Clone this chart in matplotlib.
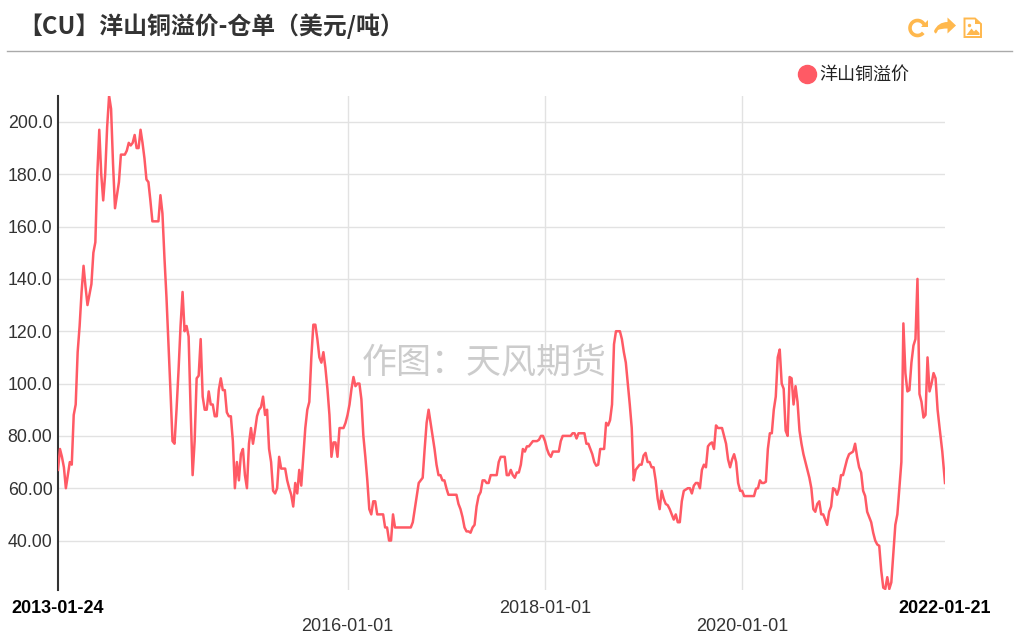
import numpy as np
import pandas as pd
import matplotlib
matplotlib.use("Agg")
import matplotlib.pyplot as plt
from matplotlib.lines import Line2D
from matplotlib.patches import Arc, Circle, PathPatch, Polygon
from matplotlib.path import Path

CJK = ['Noto Sans CJK SC', 'DejaVu Sans']
plt.rcParams['font.family'] = ['Liberation Sans', 'Noto Sans CJK SC', 'DejaVu Sans']

title = "【CU】洋山铜溢价-仓单（美元/吨）"
series_name = "洋山铜溢价"
watermark = "作图：天风期货"

# readings per calendar year, evenly spread inside that year
year_bounds = ["2013-01-24", "2014-01-01", "2015-01-01", "2016-01-01", "2017-01-01",
               "2018-01-01", "2019-01-01", "2020-01-01", "2021-01-01", "2022-01-01", "2022-01-21"]
v2013 = [67, 75, 72, 68, 60, 65, 70, 69, 88, 92, 112, 122, 135, 145, 137, 130, 134, 138, 150, 154,
         180, 197, 180, 170, 180, 198, 210, 205, 184, 167, 172, 177, 187.5, 187.5, 187.5, 189, 192, 191,
         192, 195, 190, 190, 197, 192, 186, 178, 177]
v2014 = [170, 162, 162, 162, 162, 172, 165, 148, 133, 115, 97, 78, 77, 90, 105, 122, 135, 120, 122, 118,
         90, 65, 78, 102, 103, 117, 95, 90, 90, 97, 92, 92, 87.5, 87.5, 97.5, 102, 97.5, 97.5, 89, 87.5,
         87.5, 78, 60, 70, 63, 73, 75, 65, 60]
v2015 = [77, 83, 77, 82, 87.5, 90, 91, 95, 88, 90, 75, 70, 59, 58, 60, 72, 67.5, 67.5, 67.5, 63, 60,
         57.5, 53, 62, 58, 67, 61, 72, 83, 90, 93, 110, 122.5, 122.5, 117, 110, 108, 112, 106, 98, 88,
         72, 77.5, 77.5, 72, 83, 83, 83, 85]
v2016 = [88, 92, 98, 102.5, 99, 100, 100, 94, 80, 72, 63, 52, 50, 55, 55, 50, 50, 50, 50, 45, 45, 40,
         40, 50, 45, 45, 45, 45, 45, 45, 45, 45, 45, 47, 52, 57, 62, 63, 64, 75, 85, 90, 85, 80, 75, 69,
         65, 65, 63, 63]
v2017 = [60, 57.5, 57.5, 57.5, 57.5, 57.5, 54, 52, 49, 45, 43.5, 43.5, 43, 45, 46, 53, 57, 58.5, 63, 63,
         62, 62, 65, 65, 65, 65, 70, 72, 72, 72, 65, 65, 67, 65, 64, 66, 66, 69, 75, 74, 76, 76, 77, 78,
         78, 78, 78.5, 80, 80]
v2018 = [78, 75, 73, 72, 74, 74, 74, 74, 78, 80, 80, 80, 80, 80, 81, 81, 79, 81, 81, 81, 81, 77, 77, 75,
         73, 70, 68.6, 69, 75, 75, 75, 85, 84, 86, 92, 115, 120, 120, 120, 117, 112, 108, 100, 92, 83, 63,
         67, 68, 69, 69]
v2019 = [72.5, 73.5, 70, 70, 68, 68, 63, 56, 52, 59, 56, 54, 53.5, 52, 50, 48, 50, 47, 47, 55, 59, 59.5,
         60, 60, 58, 61, 62, 62, 60, 67, 69, 68, 76, 77, 77.5, 75, 84, 83, 83, 83, 80, 77, 71, 68, 71, 73,
         70, 62, 59]
v2020 = [59, 57, 57, 57, 57, 57, 57, 59.8, 60, 63, 62, 62, 62.5, 75, 81, 81, 90, 95, 110, 113, 100, 98,
         82, 80, 102.5, 102, 92, 99, 93, 82, 77, 73, 70, 67, 64, 60, 52, 51, 54, 55, 50, 50, 48, 46, 51,
         53, 60, 59.5, 57.5, 60]
v2021 = [65, 65, 68, 71, 73, 73.5, 74, 77, 72, 68, 66, 59, 57, 51, 49, 47, 43, 40, 38.5, 38, 28.5, 22,
         21.5, 26, 21.5, 24, 35, 46, 50, 60, 70, 123, 104, 97, 97.5, 108, 114.5, 117, 140, 96, 93, 87, 88,
         110, 97, 100, 104, 102, 90]
v2022 = [83, 74, 62]
year_values = [v2013, v2014, v2015, v2016, v2017, v2018, v2019, v2020, v2021, v2022]

y_ticks = [40, 60, 80, 100, 120, 140, 160, 180, 200]
y_labels = ["40.00", "60.00", "80.00", "100.0", "120.0", "140.0", "160.0", "180.0", "200.0"]
x_ticks = ["2013-01-24", "2016-01-01", "2018-01-01", "2020-01-01", "2022-01-21"]

dates = []
values = []
for i, vals in enumerate(year_values):
    last = i == len(year_values) - 1
    if last:
        rng = pd.date_range(year_bounds[i], year_bounds[i + 1], periods=len(vals))
    else:
        rng = pd.date_range(year_bounds[i], year_bounds[i + 1], periods=len(vals) + 1)[:-1]
    dates.extend(rng)
    values.extend(vals)

W, H = 1028, 644
RED = "#ff5a65"
ORANGE = "#ffb84d"
fig = plt.figure(figsize=(W / 100, H / 100), dpi=100, facecolor="white")

# chart area
ax = fig.add_axes([58 / W, 1 - 590 / H, (945 - 58) / W, (590 - 96) / H])
ax.plot(dates, values, color=RED, lw=1.8, solid_joinstyle="round", zorder=3)
ax.set_xlim(pd.Timestamp(x_ticks[0]), pd.Timestamp(x_ticks[-1]))
ax.set_ylim(21.1, 209.9)

ax.set_yticks(y_ticks)
ax.set_yticklabels(y_labels, fontsize=12.8, color="#333333")
ax.set_xticks([pd.Timestamp(d) for d in x_ticks])
ax.set_xticklabels(x_ticks, fontsize=13, color="#333333")
ax.tick_params(axis="both", length=0)
ax.tick_params(axis="y", pad=4)

ax.grid(True, color="#e2e2e2", lw=1.0, zorder=0)
for i, tick in enumerate(ax.xaxis.get_major_ticks()):
    tick.set_pad(20.5 if i in (1, 3) else 7)
    if i in (0, 4):
        tick.label1.set_fontweight("bold")
        tick.label1.set_color("black")
        tick.gridline.set_visible(False)
ax.set_axisbelow(True)
for side in ("top", "right", "bottom"):
    ax.spines[side].set_visible(False)
ax.spines["left"].set_color("#333333")
ax.spines["left"].set_linewidth(1.5)

ax.text(0.5 * (364 + 605 - 2 * 58) / (945 - 58), 1 - (363 - 96) / (590 - 96), watermark,
        transform=ax.transAxes, family=CJK, fontsize=25.2, color="#cccccc",
        ha="center", va="center", zorder=2)

handle = Line2D([], [], ls="none", marker="o", ms=13, color=RED, label=series_name)
leg = fig.legend(handles=[handle], loc="center left", bbox_to_anchor=(789 / W, 1 - 75 / H),
                 frameon=False, handletextpad=-0.32, borderpad=0, borderaxespad=0,
                 prop={"family": CJK, "size": 13})
leg.get_texts()[0].set_color("#222222")

# header: title, rule and the toolbar icons, in pixel coordinates
hd = fig.add_axes([0, 0, 1, 1], facecolor="none")
hd.set_xlim(0, W)
hd.set_ylim(H, 0)
hd.axis("off")
hd.text(18, 26, title, family=CJK, fontsize=17.2, fontweight="bold", color="#333333", va="center")
hd.plot([7, 1012], [50.5, 50.5], color="#aaaaaa", lw=1)

# refresh
hd.add_patch(Arc((917.5, 28), 15, 15, angle=0, theta1=40, theta2=340, color=ORANGE, lw=2.6))
hd.add_patch(Polygon([(928, 19.5), (928, 27), (920.5, 27)], closed=True, color=ORANGE, lw=0))
# share arrow
arrow = Path([(956, 25.5), (947.5, 17.5), (947.5, 22), (938, 22), (934, 31), (935.5, 36.5),
              (938, 30), (941, 28.5), (947.5, 28.5), (947.5, 33.5), (956, 25.5)],
             [Path.MOVETO, Path.LINETO, Path.LINETO, Path.CURVE3, Path.CURVE3, Path.CURVE3, Path.CURVE3,
              Path.CURVE3, Path.LINETO, Path.LINETO, Path.CLOSEPOLY])
hd.add_patch(PathPatch(arrow, facecolor=ORANGE, edgecolor="none"))
# image file
hd.add_patch(Polygon([(964.5, 18.5), (975, 18.5), (981, 24), (981, 37), (964.5, 37)], closed=True,
                     fill=False, edgecolor=ORANGE, lw=1.4))
hd.add_patch(Polygon([(975, 18.5), (975, 24), (981, 24)], closed=True, facecolor=ORANGE, edgecolor="none"))
hd.add_patch(Circle((969.5, 25.5), 1.7, color=ORANGE, lw=0))
hd.add_patch(Polygon([(966.5, 35), (971.5, 28.5), (974, 31.5), (976, 29.5), (979.5, 33), (979.5, 35)],
                     closed=True, color=ORANGE, lw=0))

fig.savefig("out.png", dpi=100)
plt.close(fig)
